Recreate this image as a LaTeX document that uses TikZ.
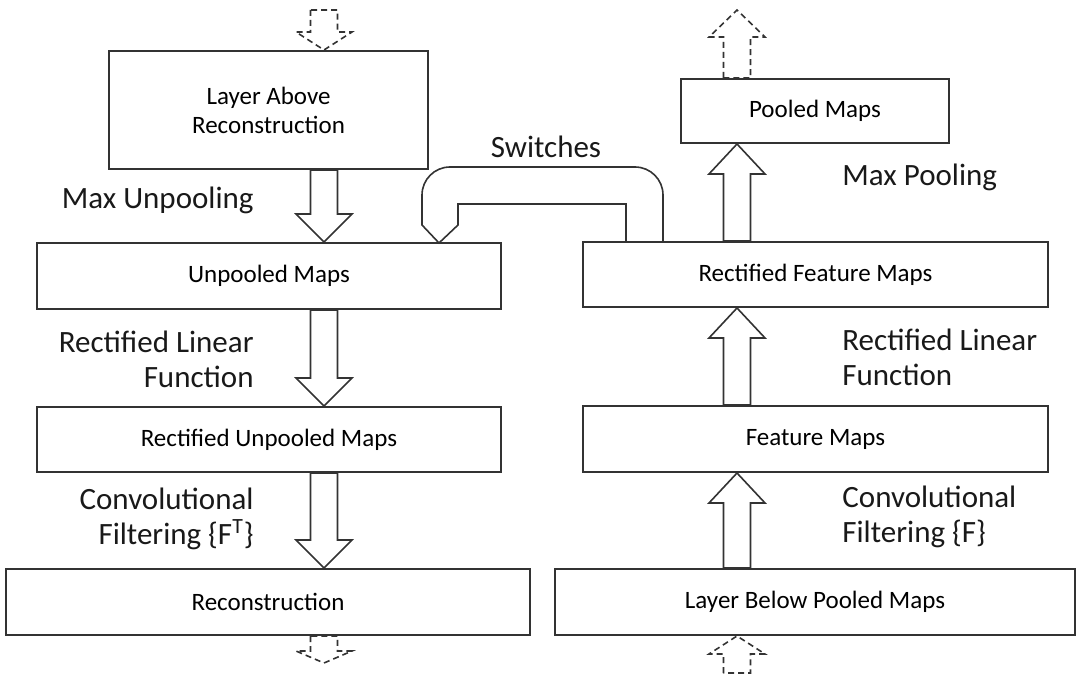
\documentclass[tikz,border=0pt]{standalone}
\usepackage{fontspec}
\setmainfont{Carlito}
\usepackage{xcolor}
\usetikzlibrary{calc}
\definecolor{linegray}{HTML}{333333}
\tikzset{
  map box/.style    = {draw=linegray, line width=1pt, minimum width=232pt,
                        minimum height=33pt, inner sep=2pt, align=center,
                        font=\fontsize{12.5}{14.5}\selectfont, fill=white},
  step label/.style = {inner sep=0pt, text=black!90,
                        font=\fontsize{15.5}{17.5}\selectfont},
  block arr/.style  = {draw=linegray, line width=0.8pt, fill=white},
  ghost arr/.style  = {draw=linegray, line width=0.8pt, dash pattern=on 3pt off 2pt},
}
% hollow arrow: style, head length, axis, from, to
\newcommand{\blockarrow}[5]{%
  \draw[#1] let \p1=(#3 |- #4), \p2=(#3 |- #5), \p3=($(#3 |- #5)!#2!(#3 |- #4)$) in
    (\x1-6.75pt,\y1) -- (\x1-6.75pt,\y3) -- (\x1-14pt,\y3) -- (\x2,\y2)
    -- (\x1+14pt,\y3) -- (\x1+6.75pt,\y3) -- (\x1+6.75pt,\y1) -- cycle;}

\begin{document}
\begin{tikzpicture}[x=0.5pt, y=-0.5pt]
  \useasboundingbox (0,0) rectangle (1076,678);

  % deconvnet side
  \node[map box, minimum width=159.5pt, minimum height=59pt] (above) at (268.5,110) {Layer Above\\Reconstruction};
  \node[map box] (unpooled) at (269,276) {Unpooled Maps};
  \node[map box, minimum height=32.5pt] (runpooled) at (269,439.5) {Rectified Unpooled Maps};
  \node[map box, minimum width=262pt] (recon) at (268,602) {Reconstruction};

  % convnet side
  \node[map box, minimum width=134pt, minimum height=32pt] (pooled) at (815,111) {Pooled Maps};
  \node[map box, minimum width=232.5pt, minimum height=32.5pt] (rfeat) at (815.5,274.5) {Rectified Feature Maps};
  \node[map box, minimum width=232.5pt] (feat) at (815.5,439) {Feature Maps};
  \node[map box, minimum width=260pt] (below) at (815,602) {Layer Below Pooled Maps};

  \coordinate (laxis) at (324,0);
  \coordinate (raxis) at (737,0);
  \coordinate (above in)   at (324,10);
  \coordinate (recon out)  at (324,663);
  \coordinate (below in)   at (737,673);
  \coordinate (pooled out) at (737,10);

  \blockarrow{block arr}{14pt}{laxis}{above.south}{unpooled.north}
  \blockarrow{block arr}{14pt}{laxis}{unpooled.south}{runpooled.north}
  \blockarrow{block arr}{14pt}{laxis}{runpooled.south}{recon.north}
  \blockarrow{block arr}{15pt}{raxis}{below.north}{feat.south}
  \blockarrow{block arr}{15pt}{raxis}{feat.north}{rfeat.south}
  \blockarrow{block arr}{15pt}{raxis}{rfeat.north}{pooled.south}

  \blockarrow{ghost arr}{9pt}{laxis}{above in}{above.north}
  \blockarrow{ghost arr}{6pt}{laxis}{recon.south}{recon out}
  \blockarrow{ghost arr}{9pt}{raxis}{below in}{below.south}
  \blockarrow{ghost arr}{13.5pt}{raxis}{pooled.north}{pooled out}

  % switches
  \draw[block arr, fill=none] (663,242) -- (663,195) arc[start angle=0, end angle=90, radius=14pt]
    -- (450,167) arc[start angle=90, end angle=180, radius=14pt] -- (422,225) -- (439,243)
    -- (458,225) -- (458,204) -- (626,204) -- (626,242);

  \node[step label, anchor=east] (unpool lbl) at (254,200) {Max Unpooling};
  \node[step label, anchor=east, align=right] (relu l) at (254,359.5) {Rectified Linear\\Function};
  \node[step label, anchor=east, align=right] (conv l) at (254,518.5) {Convolutional\\Filtering \{F\textsuperscript{T}\}};
  \node[step label] (sw lbl) at (546,147) {Switches};
  \node[step label, anchor=west] (pool lbl) at (842,177) {Max Pooling};
  \node[step label, anchor=west, align=left] (relu r) at (842,357) {Rectified Linear\\Function};
  \node[step label, anchor=west, align=left] (conv r) at (842,517) {Convolutional\\Filtering \{F\}};
\end{tikzpicture}
\end{document}
